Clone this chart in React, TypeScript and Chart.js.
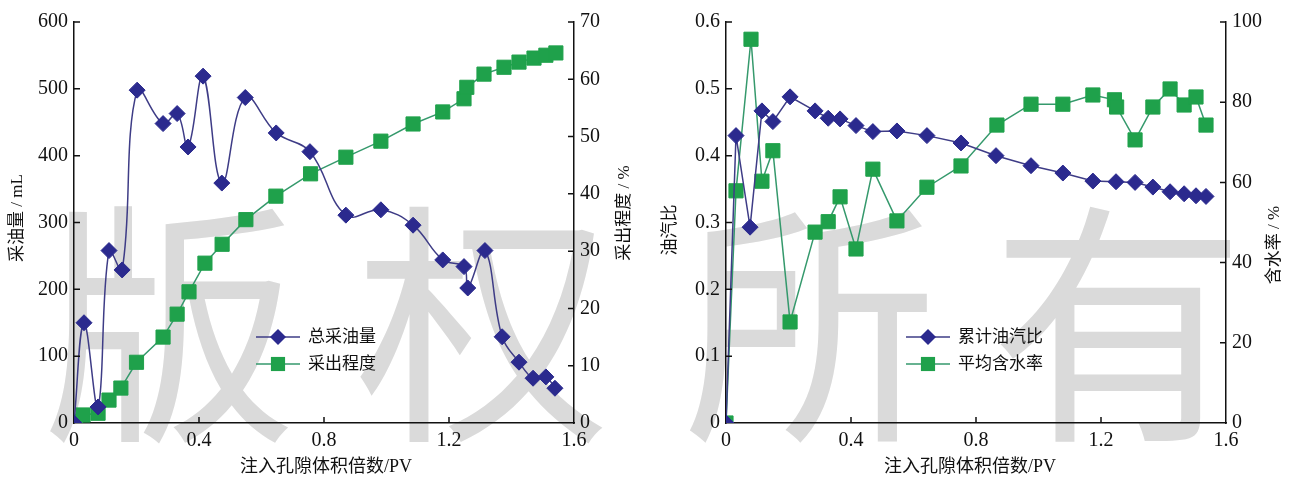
import React, { useEffect, useRef } from 'react';
import { Chart, registerables } from 'chart.js';

Chart.register(...registerables);

// ---------- Data (left panel) ----------
const oilPV = [0, 0.032, 0.077, 0.112, 0.154, 0.202, 0.285, 0.33, 0.365, 0.413, 0.473, 0.548, 0.647, 0.755, 0.87, 0.982, 1.085, 1.18, 1.248, 1.26, 1.315, 1.37, 1.424, 1.469, 1.51, 1.539];
const oilTotal = [0, 150, 24, 258, 229, 498, 448, 463, 413, 519, 359, 487, 434, 406, 311, 319, 296, 244, 234, 202, 258, 129, 91, 67, 69, 52];
const recPV = [0.005, 0.029, 0.077, 0.112, 0.15, 0.2, 0.285, 0.33, 0.368, 0.419, 0.474, 0.55, 0.646, 0.757, 0.87, 0.982, 1.085, 1.18, 1.248, 1.257, 1.312, 1.376, 1.424, 1.472, 1.51, 1.542];
const recovery = [0.3, 1.4, 1.7, 4.0, 6.1, 10.6, 15.0, 19.0, 22.9, 27.9, 31.2, 35.5, 39.6, 43.5, 46.4, 49.2, 52.2, 54.3, 56.6, 58.6, 60.9, 62.1, 63.0, 63.7, 64.2, 64.6];

// ---------- Data (right panel) ----------
const osrPV = [0, 0.032, 0.077, 0.115, 0.15, 0.205, 0.285, 0.327, 0.365, 0.416, 0.47, 0.547, 0.643, 0.752, 0.864, 0.976, 1.078, 1.174, 1.248, 1.309, 1.366, 1.421, 1.466, 1.504, 1.536];
const osrCum = [0, 0.43, 0.293, 0.467, 0.451, 0.488, 0.467, 0.456, 0.455, 0.445, 0.436, 0.437, 0.43, 0.419, 0.4, 0.385, 0.374, 0.362, 0.361, 0.36, 0.353, 0.346, 0.343, 0.34, 0.339];
const wcPV = [0, 0.032, 0.08, 0.115, 0.15, 0.205, 0.285, 0.327, 0.365, 0.416, 0.47, 0.547, 0.643, 0.752, 0.867, 0.976, 1.078, 1.174, 1.243, 1.25, 1.309, 1.366, 1.421, 1.466, 1.504, 1.536];
const waterCut = [0, 57.9, 95.7, 60.3, 67.9, 25.2, 47.6, 50.2, 56.4, 43.4, 63.3, 50.4, 58.8, 64.1, 74.3, 79.5, 79.5, 81.8, 80.6, 78.8, 70.6, 78.8, 83.3, 79.3, 81.3, 74.3];

// ---------- Labels ----------
const xTitle = '注入孔隙体积倍数/PV';
const leftNames = ['总采油量', '采出程度'];
const rightNames = ['累计油汽比', '平均含水率'];
const leftYTitles = ['采油量 / mL', '采出程度 / %'];
const rightYTitles = ['油汽比', '含水率 / %'];
const watermark = ['版', '权', '所', '有'];

const NUM_FONT = "'Liberation Serif', 'Times New Roman', serif";
const MIX_FONT = "'Liberation Serif', 'Noto Sans CJK SC', serif";

const BLUE_LINE = '#3e3c86';
const BLUE_MARK = '#2b2a8e';
const GREEN_LINE = '#35996c';
const GREEN_MARK = '#1fa14b';

const pairs = (xs: number[], ys: number[]) => xs.map((x, i) => ({ x, y: ys[i] }));

function drawMarker(ctx: CanvasRenderingContext2D, style: string, x: number, y: number, r: number, color: string) {
  ctx.beginPath();
  if (style === 'rectRot') {
    ctx.moveTo(x - r, y);
    ctx.lineTo(x, y - r);
    ctx.lineTo(x + r, y);
    ctx.lineTo(x, y + r);
    ctx.closePath();
  } else {
    const s = r * Math.SQRT1_2;
    ctx.rect(x - s, y - s, 2 * s, 2 * s);
  }
  ctx.fillStyle = color;
  ctx.fill();
}

const decoPlugin = {
  id: 'deco',
  afterDraw(chart: any, _args: any, opts: any) {
    const ctx: CanvasRenderingContext2D = chart.ctx;
    const ca = chart.chartArea;
    const { x, y, y1 } = chart.scales;
    ctx.save();
    // inward tick marks
    ctx.strokeStyle = '#111';
    ctx.lineWidth = 1.5;
    const TL = 6;
    ctx.beginPath();
    x.ticks.forEach((t: any) => {
      const px = x.getPixelForValue(t.value);
      if (px <= ca.left + 1 || px >= ca.right - 1) return;
      ctx.moveTo(px, ca.bottom);
      ctx.lineTo(px, ca.bottom - TL);
    });
    y.ticks.forEach((t: any) => {
      const py = y.getPixelForValue(t.value);
      if (py >= ca.bottom - 1) return;
      ctx.moveTo(ca.left, py);
      ctx.lineTo(ca.left + TL, py);
    });
    y1.ticks.forEach((t: any) => {
      const py = y1.getPixelForValue(t.value);
      if (py >= ca.bottom - 1) return;
      ctx.moveTo(ca.right, py);
      ctx.lineTo(ca.right - TL, py);
    });
    ctx.stroke();

    // legend
    const lg = opts.legend;
    chart.data.datasets.forEach((ds: any, i: number) => {
      const ly = lg.y + i * lg.gap;
      ctx.strokeStyle = ds.borderColor;
      ctx.lineWidth = 1.5;
      ctx.beginPath();
      ctx.moveTo(lg.x, ly);
      ctx.lineTo(lg.x + lg.len, ly);
      ctx.stroke();
      drawMarker(ctx, ds.pointStyle, lg.x + lg.len / 2, ly, ds.pointRadius, ds.pointBackgroundColor);
      ctx.fillStyle = '#111';
      ctx.font = `17px ${MIX_FONT}`;
      ctx.textAlign = 'left';
      ctx.textBaseline = 'middle';
      ctx.fillText(ds.label, lg.x + lg.len + 8, ly + 1);
    });

    // axis titles
    ctx.fillStyle = '#111';
    ctx.textAlign = 'center';
    ctx.textBaseline = 'middle';
    opts.titles.forEach((t: any) => {
      ctx.save();
      ctx.translate(t.x, t.y);
      if (t.rot) ctx.rotate(t.rot);
      ctx.font = `${t.size || 17}px ${MIX_FONT}`;
      ctx.fillText(t.text, 0, 0);
      ctx.restore();
    });
    ctx.restore();
  },
};

function makeConfig(p: any) {
  const tickFont = { family: NUM_FONT, size: 20 };
  const border = { display: true, color: '#111', width: 1.5 };
  return {
    type: 'line',
    data: {
      datasets: [
        {
          label: p.names[0],
          data: p.d1,
          borderColor: BLUE_LINE,
          borderWidth: 1.5,
          pointStyle: 'rectRot',
          pointRadius: 8,
          pointBackgroundColor: BLUE_MARK,
          pointBorderColor: BLUE_MARK,
          pointBorderWidth: 1,
          tension: p.tension,
          yAxisID: 'y',
        },
        {
          label: p.names[1],
          data: p.d2,
          borderColor: GREEN_LINE,
          borderWidth: 1.5,
          pointStyle: 'rect',
          pointRadius: 10,
          pointBackgroundColor: GREEN_MARK,
          pointBorderColor: GREEN_MARK,
          pointBorderWidth: 1,
          tension: 0,
          yAxisID: 'y1',
        },
      ],
    },
    options: {
      responsive: false,
      animation: false,
      events: [],
      layout: { padding: { top: 22, left: 0, right: 0, bottom: 0 } },
      plugins: {
        legend: { display: false },
        tooltip: { enabled: false },
        deco: { legend: p.legend, titles: p.titles },
      },
      scales: {
        x: {
          type: 'linear',
          min: 0,
          max: 1.6,
          grid: { display: false, drawTicks: false },
          border,
          ticks: {
            stepSize: 0.4,
            padding: 6,
            color: '#111',
            font: tickFont,
            callback: (v: number) => (v === 0 ? '0' : Number(v).toFixed(1)),
          },
          afterFit: (s: any) => { s.height = 54; },
        },
        y: {
          type: 'linear',
          position: 'left',
          min: 0,
          max: p.yMax,
          grid: { display: false, drawTicks: false },
          border,
          ticks: {
            stepSize: p.yStep,
            padding: 6,
            color: '#111',
            font: tickFont,
            callback: p.yFmt,
          },
          afterFit: (s: any) => { s.width = p.leftW; },
        },
        y1: {
          type: 'linear',
          position: 'right',
          min: 0,
          max: p.y1Max,
          grid: { display: false, drawTicks: false },
          border,
          ticks: {
            stepSize: p.y1Step,
            padding: 6,
            color: '#111',
            font: tickFont,
          },
          afterFit: (s: any) => { s.width = p.rightW; },
        },
      },
    },
    plugins: [decoPlugin],
  };
}

const ChartPanel = ({ params, left }: { params: any; left: number }) => {
  const ref = useRef<HTMLCanvasElement>(null);
  useEffect(() => {
    if (!ref.current) return;
    const chart = new Chart(ref.current, makeConfig(params) as any);
    return () => chart.destroy();
  }, []);
  return (
    <canvas
      ref={ref}
      width={646}
      height={477}
      style={{ position: 'absolute', left, top: 0, width: 646, height: 477, zIndex: 2 }}
    />
  );
};

const leftParams = {
  names: leftNames,
  d1: pairs(oilPV, oilTotal),
  d2: pairs(recPV, recovery),
  tension: 0.4,
  yMax: 600,
  yStep: 100,
  yFmt: (v: number) => String(v),
  y1Max: 70,
  y1Step: 10,
  leftW: 74,
  rightW: 72,
  legend: { x: 256, y: 337, gap: 27, len: 44 },
  titles: [
    { text: leftYTitles[0], x: 18, y: 218, rot: -Math.PI / 2 },
    { text: leftYTitles[1], x: 625, y: 213, rot: -Math.PI / 2 },
    { text: xTitle, x: 326, y: 467, size: 18 },
  ],
};

const rightParams = {
  names: rightNames,
  d1: pairs(osrPV, osrCum),
  d2: pairs(wcPV, waterCut),
  tension: 0,
  yMax: 0.6,
  yStep: 0.1,
  yFmt: (v: number) => (v === 0 ? '0' : Number(v).toFixed(1)),
  y1Max: 100,
  y1Step: 20,
  leftW: 80,
  rightW: 66,
  legend: { x: 260, y: 337, gap: 27, len: 44 },
  titles: [
    { text: rightYTitles[0], x: 25, y: 230, rot: -Math.PI / 2 },
    { text: rightYTitles[1], x: 629, y: 245, rot: -Math.PI / 2 },
    { text: xTitle, x: 324, y: 467, size: 18 },
  ],
};

const wmCenters = [170, 483, 810, 1118];

export default function App() {
  return (
    <div style={{ position: 'absolute', left: 0, top: 0, width: 1292, height: 477, background: '#fff', overflow: 'hidden' }}>
      {watermark.map((ch, i) => (
        <div
          key={ch}
          style={{
            position: 'absolute',
            left: wmCenters[i] - 140,
            top: 182,
            width: 280,
            textAlign: 'center',
            fontFamily: "'Noto Sans CJK SC', sans-serif",
            fontWeight: 400,
            fontSize: 255,
            lineHeight: 1,
            color: '#dadada',
            zIndex: 1,
          }}
        >
          {ch}
        </div>
      ))}
      <ChartPanel params={leftParams} left={0} />
      <ChartPanel params={rightParams} left={646} />
    </div>
  );
}
